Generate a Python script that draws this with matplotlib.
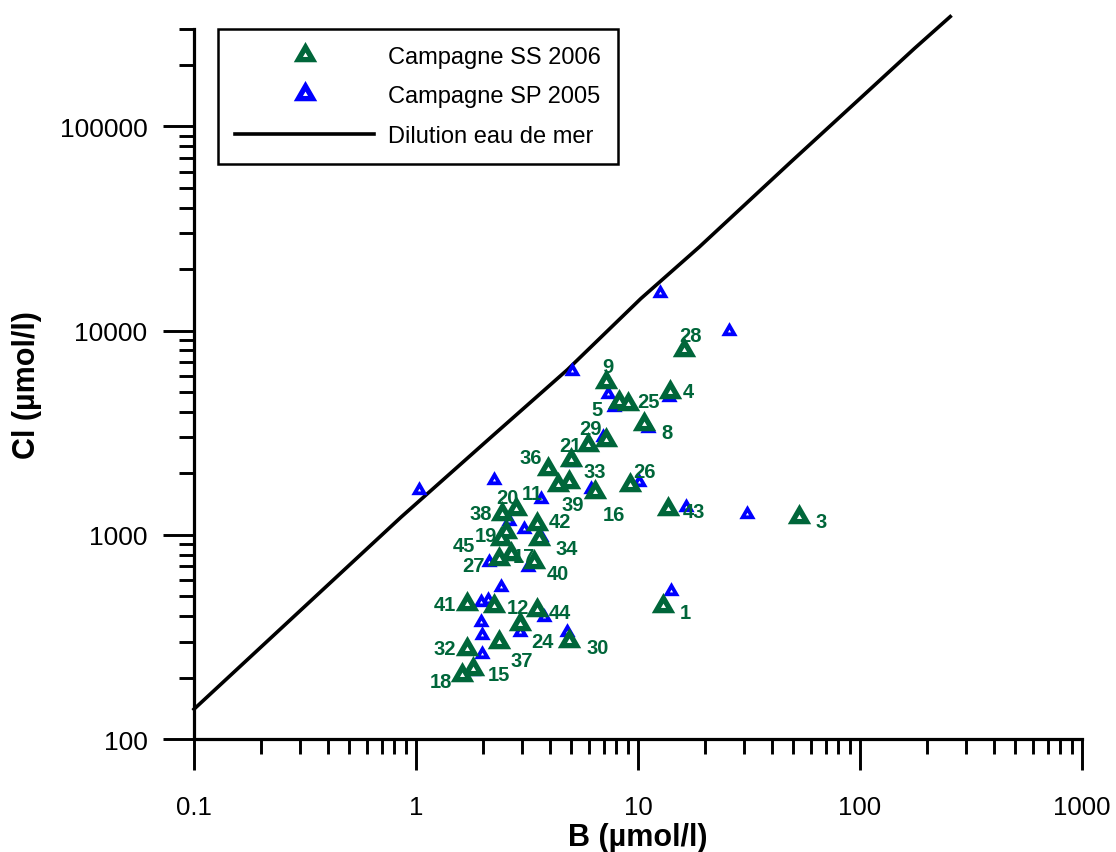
import numpy as np
import matplotlib.pyplot as plt
from matplotlib.lines import Line2D
from matplotlib.markers import MarkerStyle
from matplotlib.ticker import LogLocator, NullFormatter, FixedLocator
from matplotlib.legend_handler import HandlerTuple

# Campagne SS 2006: sample number, B and Cl (µmol/l)
ss_ids = [1, 3, 4, 5, 8, 9, 11, 12, 15, 16, 17, 18, 19, 20, 21, 24, 25, 26,
          27, 28, 29, 30, 32, 33, 34, 36, 37, 38, 39, 40, 41, 42, 43, 44, 45]
ss_b = [12.9, 52.9, 14.0, 8.24, 10.6, 7.18, 4.35, 2.25, 1.81, 6.4, 2.68, 1.61,
        2.54, 2.82, 5.93, 2.93, 8.98, 9.23, 2.37, 16.1, 7.18, 4.88, 1.70, 4.99,
        3.60, 3.92, 2.37, 2.45, 4.91, 3.39, 1.70, 3.51, 13.6, 3.51, 2.42]
ss_cl = [450, 1222, 5010, 4470, 3500, 5610, 1746, 450, 220, 1618, 807, 206,
         1031, 1340, 2743, 366, 4385, 1746, 762, 8000, 2900, 303, 276, 2312,
         955, 2109, 298, 1268, 1812, 735, 459, 1132, 1340, 426, 955]

# Campagne SP 2005: B and Cl (µmol/l)
sp_b = [12.6, 25.8, 5.03, 1.035, 2.25, 3.66, 7.29, 7.82, 11.07, 13.8, 6.93,
        5.03, 6.14, 10.1, 16.4, 31.0, 2.63, 3.08, 3.66, 2.14, 3.18, 2.42,
        1.96, 2.12, 3.76, 2.93, 14.1, 1.96, 1.98, 4.77, 1.98, 1.80, 4.35]
sp_cl = [15200, 10000, 6310, 1650, 1850, 1500, 4910, 4230, 3335, 4730, 3010,
         2270, 1680, 1810, 1367, 1270, 1175, 1069, 972, 735, 695, 554,
         468, 477, 395, 333, 533, 373, 324, 333, 261, 216, 1760]

# seawater dilution line
mer_b = [0.1, 0.856, 2.18, 4.82, 10.3, 18.9, 48.9, 108, 176, 255]
mer_cl = [140, 1220, 3010, 6450, 14350, 25700, 67100, 147900, 241000, 345000]

x_ticks = [0.1, 1, 10, 100, 1000]
x_tick_labels = ['0.1', '1', '10', '100', '1000']
y_ticks = [100, 1000, 10000, 100000]
y_tick_labels = ['100', '1000', '10000', '100000']

# where each sample number sits relative to its triangle (pixels, y down)
label_offsets = {
    1: (23, 7), 3: (23, 4), 4: (18, 0), 5: (-22, 7), 8: (23, 9), 9: (2, -15),
    11: (-25, 8), 12: (24, 2), 15: (26, 5), 16: (19, 22), 17: (13, 3),
    18: (-21, 7), 19: (-20, 3), 20: (-9, -11), 21: (-17, 0), 24: (23, 18),
    25: (21, -2), 26: (14, -14), 27: (-26, 7), 28: (7, -15), 29: (-16, -12),
    30: (29, 7), 32: (-22, 0), 33: (24, 11), 34: (27, 10), 36: (-17, -11),
    37: (23, 18), 38: (-22, 0), 39: (3, 22), 40: (24, 11), 41: (-22, 1),
    42: (23, -2), 43: (26, 3), 44: (23, 2), 45: (-37, 7),
}

GREEN = '#00663a'
BLUE = '#0000ff'

plt.rcParams['font.family'] = ['Liberation Sans', 'DejaVu Sans']

# equilateral triangle centred on its centroid
tri = MarkerStyle([(-1, -0.577), (1, -0.577), (0, 1.155), (-1, -0.577)],
                  joinstyle='miter')


def thick_triangles(ax, x, y, color, size, hole, z):
    # solid triangle with a small white one punched in the middle
    outer, = ax.plot(x, y, ls='none', marker=tri, ms=size, mew=0,
                     mfc=color, zorder=z)
    inner, = ax.plot(x, y, ls='none', marker=tri, ms=hole, mew=0,
                     mfc='white', zorder=z + 0.1)
    return outer, inner


fig = plt.figure(figsize=(11.16, 8.53), dpi=100)
ax = fig.add_axes([194 / 1116, 1 - 740 / 853, 888 / 1116, 710 / 853])
ax.set_xscale('log')
ax.set_yscale('log')

ax.plot(mer_b, mer_cl, color='black', lw=2.6, clip_on=False, zorder=2)
thick_triangles(ax, sp_b, sp_cl, BLUE, 13.5, 2.6, 3)
thick_triangles(ax, ss_b, ss_cl, GREEN, 19.5, 4.2, 5)

for n, b, cl in zip(ss_ids, ss_b, ss_cl):
    dx, dy = label_offsets[n]
    ax.annotate(str(n), (b, cl), xytext=(dx, -dy), textcoords='offset pixels',
                ha='center', va='center', fontsize=14.5, fontweight='bold',
                color=GREEN, zorder=4)

ax.set_xlim(0.1, 1000)
ax.set_ylim(100, 3e5)

for side in ['top', 'right']:
    ax.spines[side].set_visible(False)
for side in ['left', 'bottom']:
    ax.spines[side].set_linewidth(2.3)

ax.xaxis.set_major_locator(FixedLocator(x_ticks))
ax.yaxis.set_major_locator(FixedLocator(y_ticks))
ax.set_xticklabels(x_tick_labels)
ax.set_yticklabels(y_tick_labels)
ax.xaxis.set_minor_locator(LogLocator(base=10, subs=np.arange(2, 10)))
ax.yaxis.set_minor_locator(LogLocator(base=10, subs=np.arange(2, 10)))
ax.xaxis.set_minor_formatter(NullFormatter())
ax.yaxis.set_minor_formatter(NullFormatter())

ax.tick_params(which='major', direction='out', length=22.5, width=2.1)
ax.tick_params(which='minor', direction='out', length=11, width=2.1)
ax.tick_params(axis='x', which='major', pad=18, labelsize=18.5)
ax.tick_params(axis='y', which='major', pad=11, labelsize=19)

ax.set_xlabel('B (µmol/l)', fontsize=22, fontweight='bold', va='center')
ax.xaxis.set_label_coords(0.5, -0.138)
ax.set_ylabel('Cl (µmol/l)', fontsize=22, fontweight='bold', va='center')
ax.yaxis.set_label_coords(-0.188, 0.5)


def legend_triangle(color):
    return (Line2D([], [], ls='none', marker=tri, ms=19.5, mew=0, mfc=color),
            Line2D([], [], ls='none', marker=tri, ms=4.2, mew=0, mfc='white'))


handles = [legend_triangle(GREEN), legend_triangle(BLUE),
           Line2D([], [], color='black', lw=2.6)]
leg = ax.legend(handles, ['Campagne SS 2006', 'Campagne SP 2005', 'Dilution eau de mer'],
                handler_map={tuple: HandlerTuple(ndivide=1, pad=0)},
                loc='upper left', bbox_to_anchor=(218 / 1116, 1 - 30 / 853),
                bbox_transform=fig.transFigure, borderaxespad=0, fontsize=17,
                handlelength=5.9, handletextpad=0.6, borderpad=0.72,
                labelspacing=0.74, numpoints=1, fancybox=False, framealpha=1)
leg.get_frame().set_edgecolor('black')
leg.get_frame().set_linewidth(1.8)

fig.savefig('out.png', dpi=100)
